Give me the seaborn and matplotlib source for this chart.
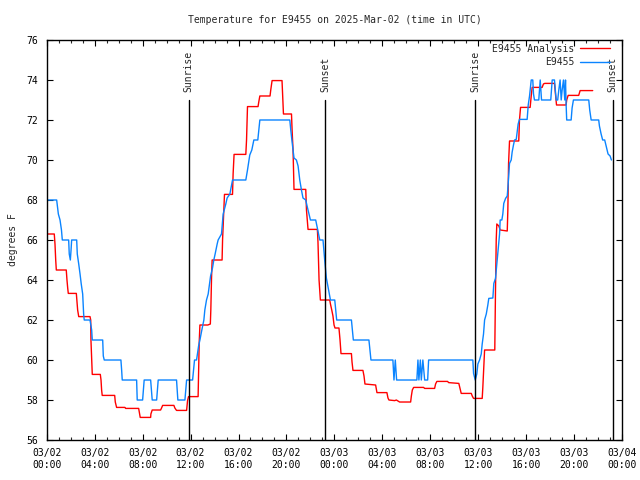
import pandas as pd
import matplotlib
matplotlib.use("Agg")
import matplotlib.pyplot as plt
import matplotlib.dates as mdates
import matplotlib.transforms as mtransforms
import seaborn as sns

# 기준 시각 (03/02 00:00 UTC) 이후 경과 시간(시간 단위)
start = pd.Timestamp("2025-03-02 00:00")

obs_hours = [
    0.00, 0.83, 0.97, 1.11, 1.23, 1.30, 1.83, 1.88, 1.97, 2.03, 2.08, 2.50, 2.55, 2.67,
    2.78, 2.88, 3.00, 3.08, 3.13, 3.61, 3.75, 3.80, 4.67, 4.72, 4.80, 6.19, 6.25, 6.30,
    7.50, 7.55, 8.00, 8.13, 8.67, 8.80, 9.17, 9.30, 10.83, 10.94, 11.53, 11.67, 12.17,
    12.33, 12.50, 12.67, 12.78, 12.94, 13.11, 13.19, 13.33, 13.47, 13.67, 13.83, 13.94,
    14.05, 14.22, 14.30, 14.58, 14.72, 14.94, 15.05, 15.28, 15.50, 16.61, 16.75, 16.94,
    17.11, 17.28, 17.61, 17.78, 20.28, 20.36, 20.47, 20.63, 20.83, 20.97, 21.11, 21.25,
    21.38, 21.61, 21.72, 22.00, 22.44, 22.61, 22.78, 23.05, 23.19, 23.33, 23.55, 23.67,
    24.03, 24.19, 25.42, 25.58, 26.88, 27.05, 28.88, 28.97, 29.08, 29.19, 29.38, 30.88,
    30.97, 31.05, 31.17, 31.25, 31.38, 31.53, 31.78, 31.86, 32.08, 35.55, 35.61, 35.75,
    35.88, 35.97, 36.11, 36.25, 36.33, 36.44, 36.53, 36.67, 36.80, 36.88, 37.22, 37.30,
    37.44, 37.55, 37.67, 37.78, 37.83, 37.97, 38.05, 38.13, 38.28, 38.42, 38.50, 38.55,
    38.61, 38.75, 38.83, 38.94, 39.03, 39.17, 39.25, 39.33, 39.44, 40.08, 40.17, 40.28,
    40.33, 40.42, 40.55, 40.61, 40.69, 41.05, 41.17, 41.28, 42.05, 42.17, 42.36, 42.50,
    42.63, 42.72, 42.83, 42.92, 43.00, 43.11, 43.22, 43.28, 43.33, 43.38, 43.75, 43.83,
    43.94, 45.22, 45.30, 45.42, 46.05, 46.11, 46.25, 46.38, 46.55, 46.67, 46.83, 47.00,
    47.11,
]
obs_temp = [
    68.0, 68.0, 67.3, 67.0, 66.5, 66.0, 66.0, 65.3, 65.0, 65.5, 66.0, 66.0, 65.3, 64.8,
    64.3, 63.8, 63.3, 62.3, 62.0, 62.0, 61.5, 61.0, 61.0, 60.2, 60.0, 60.0, 59.5, 59.0,
    59.0, 58.0, 58.0, 59.0, 59.0, 58.0, 58.0, 59.0, 59.0, 58.0, 58.0, 59.0, 59.0,
    60.0, 60.0, 60.7, 61.0, 61.5, 62.0, 62.5, 63.0, 63.3, 64.2, 64.6, 65.0,
    65.3, 65.8, 66.0, 66.3, 67.3, 67.8, 68.1, 68.3, 69.0, 69.0, 69.5, 70.25,
    70.5, 71.0, 71.0, 72.0, 72.0, 71.5, 70.9, 70.1, 70.0, 69.7, 69.0, 68.5,
    68.1, 68.0, 67.7, 67.0, 67.0, 66.5, 66.0, 66.0, 65.0, 64.1, 63.4, 63.0,
    63.0, 62.0, 62.0, 61.0, 61.0, 60.0, 60.0, 59.0, 60.0, 59.0, 59.0, 59.0,
    60.0, 59.0, 60.0, 59.0, 60.0, 59.0, 59.0, 60.0, 60.0, 60.0, 59.33, 59.0,
    59.3, 59.8, 60.0, 60.3, 60.8, 61.3, 62.0, 62.3, 62.75, 63.08, 63.1, 63.83,
    64.08, 64.8, 65.58, 66.3, 67.0, 67.0, 67.3, 67.83, 68.08, 68.2, 68.83, 69.3,
    69.83, 70.0, 70.4, 70.75, 71.0, 71.03, 71.4, 71.8, 72.03, 72.03, 72.75, 73.2,
    73.5, 74.0, 74.0, 73.3, 73.0, 73.0, 74.0, 73.0, 73.0, 74.0, 74.0, 73.0,
    73.0, 73.5, 74.0, 73.0, 73.5, 74.0, 73.0, 74.0, 72.8, 72.0, 72.0, 72.6,
    73.0, 73.0, 72.5, 72.0, 72.0, 71.7, 71.3, 71.0, 71.0, 70.7, 70.3, 70.2,
    70.0,
]

ana_hours = [
    0.00, 0.63, 0.69, 0.75, 0.80, 1.63, 1.69, 1.75, 1.80, 2.47, 2.53, 2.58, 2.67, 3.61,
    3.67, 3.69, 3.80, 4.47, 4.53, 4.58, 4.63, 5.67, 5.72, 5.78, 5.83, 6.53, 6.58, 7.67,
    7.72, 7.80, 8.67, 8.69, 8.80, 9.50, 9.58, 9.67, 10.61, 10.69, 10.83, 11.67, 11.75,
    11.83, 12.63, 12.72, 12.78, 13.44, 13.65, 13.69, 13.75, 13.80, 14.63, 14.67, 14.78,
    14.83, 15.50, 15.55, 15.63, 16.61, 16.67, 16.75, 17.63, 17.69, 17.78, 18.63, 18.69,
    18.80, 19.63, 19.69, 19.75, 20.42, 20.47, 20.55, 20.63, 21.61, 21.67, 21.80, 22.58,
    22.63, 22.72, 22.83, 23.61, 23.67, 23.78, 23.88, 23.97, 24.05, 24.38, 24.47, 24.55,
    25.42, 25.47, 25.55, 26.38, 26.47, 26.55, 27.44, 27.55, 28.38, 28.47, 28.55, 29.03,
    29.17, 29.44, 30.36, 30.42, 30.50, 30.61, 31.44, 31.53, 32.36, 32.44, 32.55, 33.44,
    33.53, 34.38, 34.47, 34.58, 35.42, 35.50, 35.61, 36.33, 36.38, 36.53, 37.38, 37.44,
    37.50, 37.55, 37.72, 37.83, 38.42, 38.47, 38.53, 38.61, 39.38, 39.44, 39.53, 40.33,
    40.42, 40.50, 41.33, 41.44, 41.55, 42.36, 42.44, 42.53, 43.33, 43.38, 43.50, 44.38,
    44.50, 45.55,
]
ana_temp = [
    66.3, 66.3, 65.8, 65.0, 64.5, 64.5, 64.0, 63.6, 63.33, 63.33, 62.9, 62.5, 62.17, 62.17,
    62.0, 61.0, 59.28, 59.28, 59.0, 58.5, 58.23, 58.23, 57.9, 57.75, 57.63, 57.63, 57.58, 57.58,
    57.4, 57.13, 57.13, 57.3, 57.5, 57.5, 57.6, 57.73, 57.73, 57.6, 57.48, 57.48, 57.97,
    58.17, 58.17, 60.85, 61.75, 61.75, 61.8, 62.5, 64.1, 65.0, 65.0, 66.0, 67.5,
    68.28, 68.28, 69.3, 70.28, 70.28, 71.0, 72.67, 72.67, 72.9, 73.2, 73.2, 73.5,
    73.97, 73.97, 73.1, 72.3, 72.3, 71.5, 70.5, 68.53, 68.53, 67.5, 66.53, 66.53,
    65.9, 64.0, 63.0, 63.0, 62.8, 62.5, 62.2, 61.75, 61.6, 61.6, 61.0, 60.32,
    60.32, 59.9, 59.48, 59.48, 59.2, 58.8, 58.75, 58.37, 58.37, 58.1, 58.0, 57.97,
    58.0, 57.9, 57.9, 58.2, 58.5, 58.63, 58.63, 58.58, 58.58, 58.8, 58.93, 58.93,
    58.87, 58.83, 58.6, 58.33, 58.33, 58.2, 58.08, 58.08, 58.6, 60.5, 60.5, 63.5,
    66.0, 66.8, 66.7, 66.5, 66.45, 67.5, 69.83, 70.95, 70.95, 72.0, 72.63, 72.63,
    73.2, 73.63, 73.63, 73.8, 73.83, 73.83, 73.3, 72.75, 72.75, 73.0, 73.23, 73.23,
    73.47, 73.47,
]

# 일출/일몰 시각
sun_hours = [11.83, 23.22, 35.72, 47.22]
sun_labels = ["Sunrise", "Sunset", "Sunrise", "Sunset"]

series_names = ["E9455 Analysis", "E9455"]
series_colors = ["#ff0000", "#0a84ff"]

df_ana = pd.DataFrame({"time": start + pd.to_timedelta(ana_hours, unit="h"),
                       "temp": ana_temp, "series": series_names[0]})
df_obs = pd.DataFrame({"time": start + pd.to_timedelta(obs_hours, unit="h"),
                       "temp": obs_temp, "series": series_names[1]})
df = pd.concat([df_ana, df_obs], ignore_index=True)

sns.set_style("ticks")
plt.rcParams["font.family"] = ["DejaVu Sans Mono"]
plt.rcParams["font.size"] = 7

fig = plt.figure(figsize=(6.4, 4.8), dpi=100)
ax = fig.add_axes([0.073, 0.0833, 0.899, 0.8334])

sns.lineplot(data=df, x="time", y="temp", hue="series", hue_order=series_names,
             palette=series_colors, estimator=None, linewidth=1.0, ax=ax)

ax.set_xlim(start, start + pd.Timedelta(hours=48))
ax.set_ylim(56, 76)
ax.set_yticks(range(56, 77, 2))

ax.xaxis.set_major_locator(mdates.HourLocator(byhour=range(0, 24, 4)))
ax.xaxis.set_minor_locator(mdates.HourLocator())
ax.xaxis.set_major_formatter(mdates.DateFormatter("%m/%d\n%H:%M"))

ax.tick_params(axis="both", which="major", direction="in", length=4.5, width=0.8,
               top=True, right=True, labelsize=7, colors="black", pad=6)
ax.tick_params(axis="x", which="minor", direction="in", length=2.5, width=0.8,
               top=True, bottom=True)
for s in ax.spines.values():
    s.set_visible(True)
    s.set_linewidth(1.0)
    s.set_color("black")

# 일출/일몰 표시
trans = mtransforms.blended_transform_factory(ax.transData, ax.transAxes)
for h, lab in zip(sun_hours, sun_labels):
    t = start + pd.Timedelta(hours=h)
    ax.axvline(t, ymin=0, ymax=0.85, color="black", linewidth=1.0)
    ax.text(t, 0.87, lab, rotation=90, ha="center", va="bottom", transform=trans,
            fontsize=7)

ax.set_title("Temperature for E9455 on 2025-Mar-02 (time in UTC)", fontsize=7, pad=12)
ax.set_xlabel("")
ax.set_ylabel("degrees F", fontsize=7, labelpad=6)

leg = ax.legend(loc="upper right", frameon=False, markerfirst=False, fontsize=7,
                handlelength=3.0, handletextpad=0.6, labelspacing=0.35,
                borderaxespad=0.3, bbox_to_anchor=(0.99, 1.008))

fig.savefig("out.png", dpi=100)
